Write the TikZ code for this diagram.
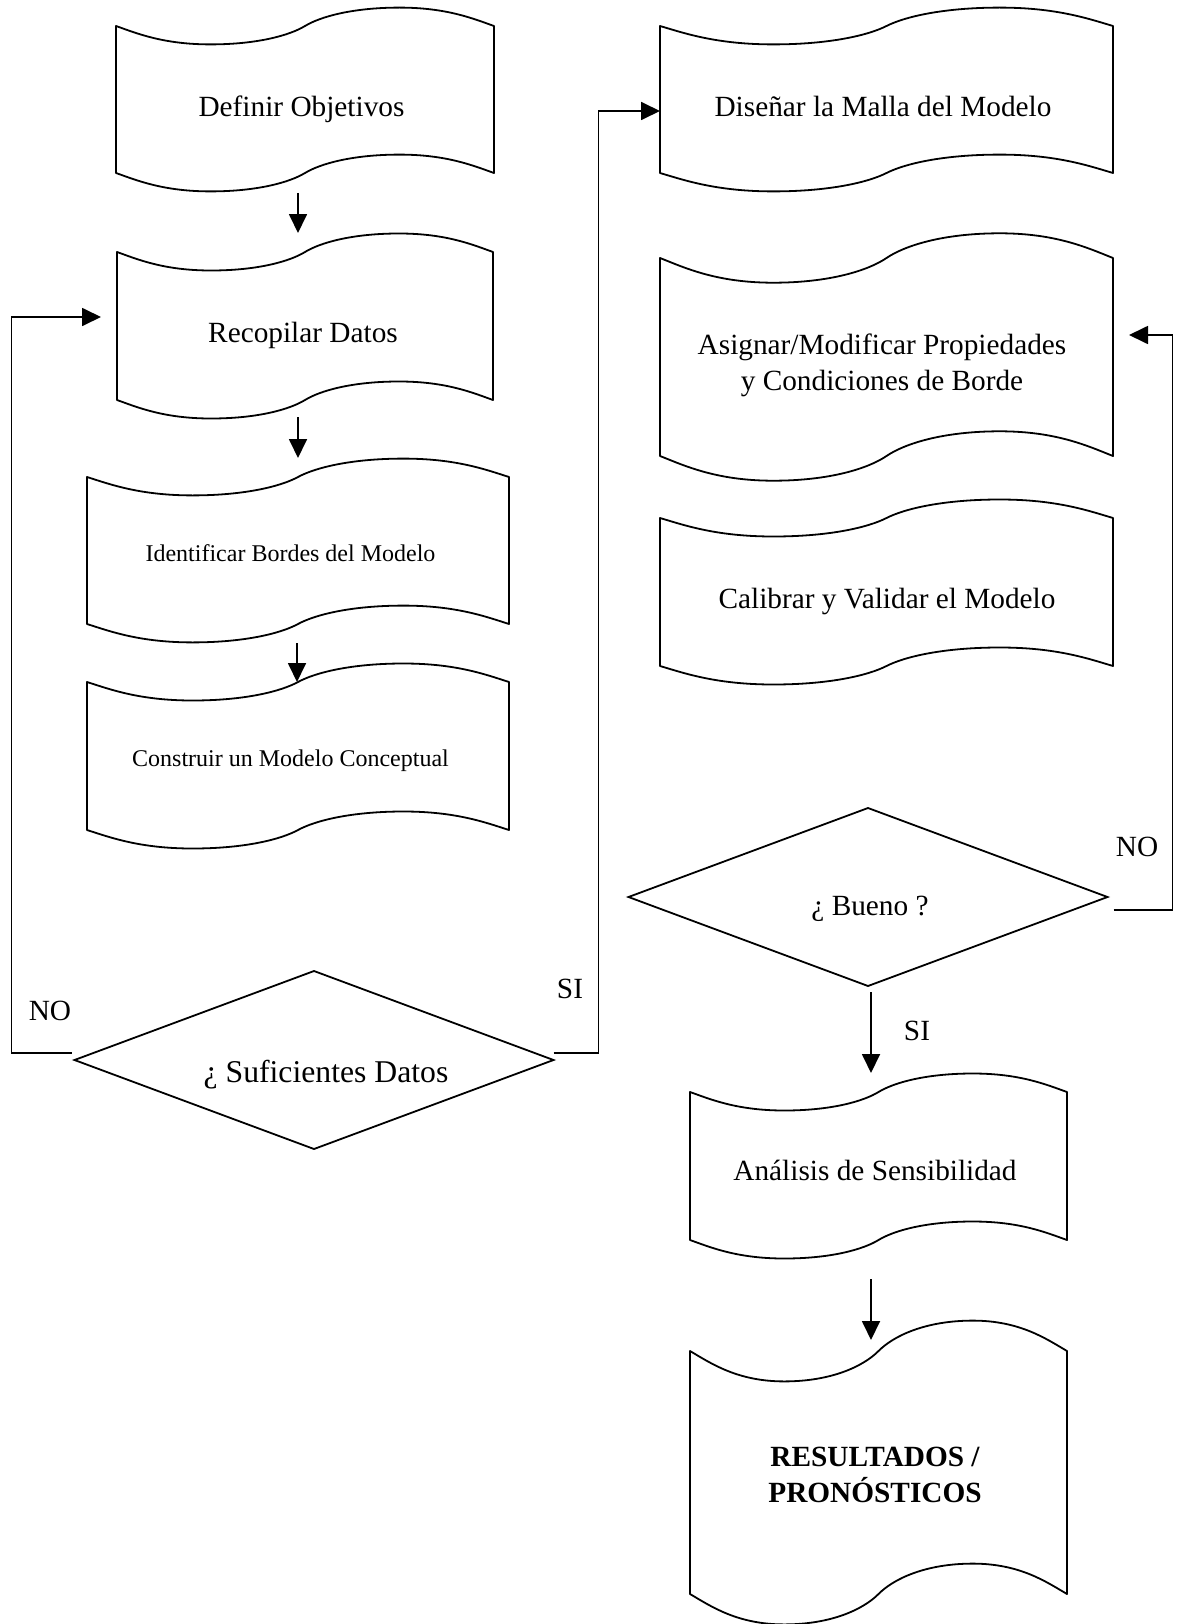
\documentclass[tikz,border=0pt]{standalone}
\usepackage{fontspec}
\setmainfont{Liberation Serif}
\usetikzlibrary{arrows.meta,shapes.geometric,calc}
\tikzset{
  tapebox/.style={rectangle, draw=none, outer sep=0pt, inner sep=0pt},
  decision/.style={diamond, draw, line width=1.8pt, outer sep=0pt, inner sep=0pt,
                   minimum width=479pt, minimum height=178pt},
  shapeline/.style={line width=1.8pt, line join=round},
  link/.style={line width=1.8pt},
  arr/.style={line width=1.8pt, -{Triangle[length=19pt,width=18pt]}},
  txt/.style={anchor=base, inner sep=0pt, font=\fontsize{29.3}{36}\selectfont},
  smalltxt/.style={anchor=base, inner sep=0pt, font=\fontsize{24}{30}\selectfont},
  bigtxt/.style={anchor=base, inner sep=0pt, font=\fontsize{31.7}{38}\selectfont},
  multitxt/.style={anchor=center, inner sep=0pt, align=center, font=\fontsize{29.3}{36}\selectfont},
}
% punched-tape outline around a named box: #1 node name, #2 quarter width, #3 wave amplitude
\newcommand{\tapedraw}[3]{%
  \draw[shapeline] (#1.north west)
    .. controls +({0.22*#2},{-0.4*#3}) and +({-0.5*#2},0) .. ++(#2,-#3)
    .. controls +({0.5*#2},0) and +({-0.16*#2},{-0.5*#3}) .. ++(#2,#3)
    .. controls +({0.16*#2},{0.5*#3}) and +({-0.5*#2},0) .. ++(#2,#3)
    .. controls +({0.5*#2},0) and +({-0.22*#2},{0.4*#3}) .. ++(#2,-#3)
    -- (#1.south east)
    .. controls +({-0.22*#2},{0.4*#3}) and +({0.5*#2},0) .. ++(-#2,#3)
    .. controls +({-0.5*#2},0) and +({0.16*#2},{0.5*#3}) .. ++(-#2,-#3)
    .. controls +({-0.16*#2},{-0.5*#3}) and +({0.5*#2},0) .. ++(-#2,-#3)
    .. controls +({-0.5*#2},0) and +({0.22*#2},{-0.4*#3}) .. ++(-#2,#3)
    -- cycle;}
\begin{document}
\begin{tikzpicture}[x=1pt,y=1pt]
\useasboundingbox (0,0) rectangle (1178,-1624);

% process boxes (geometry)
\node[tapebox, minimum width=378, minimum height=147] (s1) at (305,-99.5) {};
\node[tapebox, minimum width=376, minimum height=148] (s2) at (305,-326) {};
\node[tapebox, minimum width=422, minimum height=147] (s3) at (298,-550.5) {};
\node[tapebox, minimum width=422, minimum height=148] (s4) at (298,-756) {};
\node[tapebox, minimum width=453, minimum height=147] (s5) at (886.5,-99.5) {};
\node[tapebox, minimum width=453, minimum height=198] (s6) at (886.5,-357) {};
\node[tapebox, minimum width=453, minimum height=148] (s7) at (886.5,-592) {};
\node[tapebox, minimum width=377, minimum height=148] (s8) at (878.5,-1166) {};
\node[tapebox, minimum width=377, minimum height=243] (s9) at (878.5,-1472.5) {};

\tapedraw{s1}{94.5}{18.4}
\tapedraw{s2}{94}{18.5}
\tapedraw{s3}{105.5}{18.4}
\tapedraw{s4}{105.5}{18.5}
\tapedraw{s5}{113.25}{18.4}
\tapedraw{s6}{113.25}{24.7}
\tapedraw{s7}{113.25}{18.5}
\tapedraw{s8}{94.25}{18.5}
\tapedraw{s9}{94.25}{30.4}

% decisions
\node[decision] (d1) at (314,-1060) {};
\node[decision] (d2) at (868,-897) {};

% texts
\node[txt] (t1) at (301.5,-117) {Definir Objetivos};
\node[txt] (t2) at (303,-342) {Recopilar Datos};
\node[smalltxt] (t3) at (290.5,-561) {Identificar Bordes del Modelo};
\node[smalltxt] (t4) at (290.5,-766) {Construir un Modelo Conceptual};
\node[bigtxt] (t5) at (326,-1082) {¿ Suficientes Datos};
\node[txt] (t6) at (883,-117) {Diseñar la Malla del Modelo};
\node[multitxt] (t7) at (882,-365) {Asignar/Modificar Propiedades\\y Condiciones de Borde};
\node[txt] (t8) at (887,-608) {Calibrar y Validar el Modelo};
\node[txt] (t9) at (870,-915) {¿ Bueno ?};
\node[txt] (t10) at (875,-1180) {Análisis de Sensibilidad};
\node[multitxt, font=\fontsize{29.3}{36}\selectfont\bfseries] (t11) at (875,-1475) {RESULTADOS /\\PRONÓSTICOS};

% labels
\node[txt] (no1) at (50,-1020) {NO};
\node[txt] (si1) at (570,-998) {SI};
\node[txt] (no2) at (1137,-856) {NO};
\node[txt] (si2) at (917,-1040) {SI};

% connectors
\draw[arr] ([xshift=-7,yshift=-20]s1.south) -- ([xshift=-7,yshift=19]s2.north);
\draw[arr] ([xshift=-7,yshift=-17]s2.south) -- ([yshift=19]s3.north);
\draw[arr] ([xshift=-1,yshift=-19]s3.south) -- ([xshift=-1]s4.north);
\draw[arr] ([yshift=7]d1.east) -- ++(45,0) |- ([yshift=-11.5]s5.west);
\draw[arr] ([xshift=-3,yshift=7]d1.west) -- ++(-60,0) |- ([xshift=-16,yshift=9]s2.west);
\draw[arr] ([xshift=6,yshift=-13]d2.east) -- ++(59,0) |- ([xshift=16,yshift=22]s6.east);
\draw[arr] ([xshift=3,yshift=-6]d2.south) -- ([xshift=-7.5,yshift=19]s8.north);
\draw[arr] ([xshift=-7.5,yshift=-39]s8.south) -- ([xshift=-7.5,yshift=11]s9.north);
\end{tikzpicture}
\end{document}
